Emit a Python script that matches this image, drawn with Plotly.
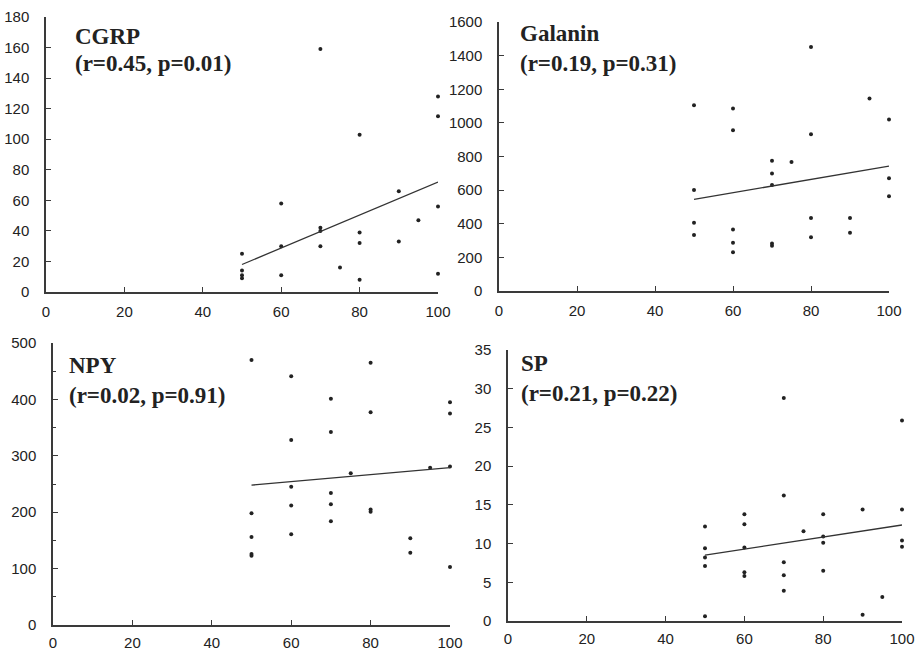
import plotly.graph_objects as go

# ---------------- data ----------------
cgrp_x = [50, 50, 50, 50, 60, 60, 60, 70, 70, 70, 70, 75, 80, 80, 80, 80, 90, 90, 95, 100, 100, 100, 100]
cgrp_y = [25, 14, 11, 9, 58, 30, 11, 159, 42, 40, 30, 16, 103, 39, 32, 8, 66, 33, 47, 128, 115, 56, 12]
cgrp_fit_x = [50, 100]
cgrp_fit_y = [18, 72]

galanin_x = [50, 50, 50, 50, 60, 60, 60, 60, 60, 70, 70, 70, 70, 70, 75, 80, 80, 80, 80, 90, 90, 95, 100, 100, 100]
galanin_y = [1105, 600, 406, 333, 1085, 956, 366, 287, 230, 774, 699, 630, 283, 269, 768, 1451, 933, 434, 319, 434, 347, 1145, 1020, 671, 564]
galanin_fit_x = [50, 100]
galanin_fit_y = [545, 743]

npy_x = [50, 50, 50, 50, 50, 60, 60, 60, 60, 60, 70, 70, 70, 70, 70, 75, 80, 80, 80, 80, 90, 90, 95, 100, 100, 100, 100]
npy_y = [470, 198, 156, 126, 123, 441, 328, 245, 212, 161, 401, 342, 234, 214, 184, 269, 465, 377, 205, 201, 154, 128, 279, 395, 375, 281, 103]
npy_fit_x = [50, 100]
npy_fit_y = [248, 279]

sp_x = [50, 50, 50, 50, 50, 60, 60, 60, 60, 60, 70, 70, 70, 70, 70, 75, 80, 80, 80, 80, 90, 90, 95, 100, 100, 100, 100]
sp_y = [12.2, 9.4, 8.2, 7.1, 0.6, 13.8, 12.5, 9.5, 6.3, 5.8, 28.8, 16.2, 7.6, 5.9, 3.9, 11.6, 13.8, 10.9, 10.1, 6.5, 14.4, 0.8, 3.1, 25.9, 14.4, 10.4, 9.6]
sp_fit_x = [50, 100]
sp_fit_y = [8.5, 12.4]

titles = ["CGRP", "Galanin", "NPY", "SP"]
stats = ["(r=0.45, p=0.01)", "(r=0.19, p=0.31)", "(r=0.02, p=0.91)", "(r=0.21, p=0.22)"]
x_ticks = [0, 20, 40, 60, 80, 100]
y_ranges = [[0, 180], [0, 1600], [0, 500], [0, 35]]
y_dticks = [20, 200, 100, 5]

# ---------------- layout helpers ----------------
W, H = 916, 652

def fx(p):
    return p / W

def fy(p):
    return 1 - p / H

# pixel boxes: (x0, x100, y0, ytop)
boxes = [
    (46, 438, 292, 17),
    (499, 889, 291, 22),
    (53, 450, 625, 343),
    (508, 902, 621, 350),
]
title_pos = [(74, 36, 64), (519, 33, 64), (68, 365, 395), (520, 363, 394)]
x_standoff = [5, 5, 3, 3]

series = [
    (cgrp_x, cgrp_y, cgrp_fit_x, cgrp_fit_y),
    (galanin_x, galanin_y, galanin_fit_x, galanin_fit_y),
    (npy_x, npy_y, npy_fit_x, npy_fit_y),
    (sp_x, sp_y, sp_fit_x, sp_fit_y),
]

ink = "#222222"
axis_col = "#3a3a3a"
tick_font = dict(family="Liberation Sans, Arial, sans-serif", size=15, color="#222222")
serif = "Liberation Serif, Times New Roman, serif"

fig = go.Figure()
layout = dict(
    width=W, height=H,
    margin=dict(l=0, r=0, t=0, b=0, autoexpand=False),
    paper_bgcolor="white", plot_bgcolor="white",
    showlegend=False,
    annotations=[],
)

for i, (sx, sy, fxv, fyv) in enumerate(series):
    n = "" if i == 0 else str(i + 1)
    xa, ya = "x" + n, "y" + n
    fig.add_trace(go.Scatter(
        x=sx, y=sy, mode="markers", xaxis=xa, yaxis=ya,
        marker=dict(size=4, color=ink, symbol="circle"), cliponaxis=False,
    ))
    fig.add_trace(go.Scatter(
        x=fxv, y=fyv, mode="lines", xaxis=xa, yaxis=ya,
        line=dict(color="#333333", width=1.3), cliponaxis=False,
    ))
    x0, x1, y0, y1 = boxes[i]
    common = dict(
        showgrid=False, zeroline=False, showline=True, linecolor=axis_col, linewidth=1.5,
        ticks="inside", ticklen=5, tickwidth=1.2, tickcolor=axis_col,
        tickfont=tick_font, automargin=False,
    )
    layout["xaxis" + n] = dict(
        domain=[fx(x0), fx(x1)], range=[0, 100], tickvals=x_ticks,
        anchor=ya, ticklabelstandoff=x_standoff[i], **common,
    )
    yax = dict(
        domain=[fy(y0), fy(y1)], range=y_ranges[i], dtick=y_dticks[i], tick0=0,
        anchor=xa, ticklabelstandoff=12, **common,
    )
    if i == 2:
        yax["minor"] = dict(dtick=50, ticks="inside", ticklen=3, tickcolor=axis_col)
    layout["yaxis" + n] = yax

    tx, ty1, ty2 = title_pos[i]
    for txt, ty in ((titles[i], ty1), (stats[i], ty2)):
        layout["annotations"].append(dict(
            x=fx(tx), y=fy(ty), xref="paper", yref="paper", xanchor="left", yanchor="middle",
            align="left", borderpad=0,
            text="<b>" + txt + "</b>", showarrow=False,
            font=dict(family=serif, size=23, color="#222222"),
        ))

fig.update_layout(**layout)
fig.write_html("out.html", config={"displayModeBar": False},
               post_script="document.body.style.margin='0';")
